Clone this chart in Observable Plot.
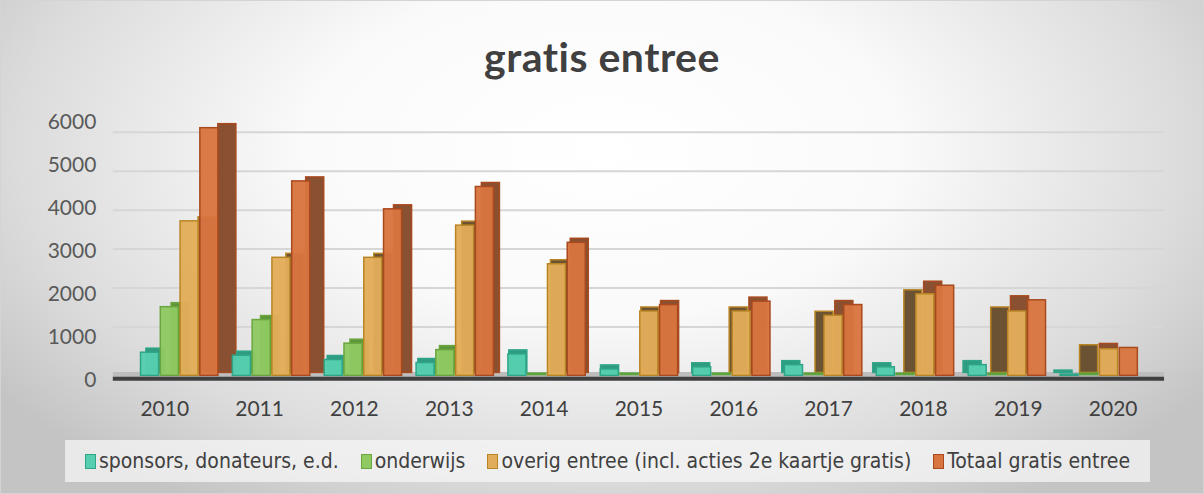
<!DOCTYPE html>
<html>
<head>
<meta charset="utf-8">
<script src="https://cdn.jsdelivr.net/npm/d3@7"></script>
<script src="https://cdn.jsdelivr.net/npm/@observablehq/plot@0.6"></script>
<style>
  html, body { margin: 0; padding: 0; }
  #card {
    position: relative; width: 1202px; height: 492px; overflow: hidden;
    border: 1px solid #d4d4d4;
    background: radial-gradient(ellipse 62% 85% at 50% 30%, #ffffff 0%, #fafafa 40%, #dcdcdc 78%, #c4c4c4 100%);
    font-family: Lato, "Open Sans", sans-serif;
  }
  #title {
    position: absolute; left: 0; right: 0; top: 31px; text-align: center;
    font-family: Lato, sans-serif; font-weight: 700; font-size: 41px; line-height: 50px;
    color: #404040; letter-spacing: 0.5px;
  }
  #chart { position: absolute; left: 0; top: 0; }
  #legend {
    position: absolute; left: 64px; top: 439px; width: 1085px; height: 42px;
    background: rgba(245,245,245,0.75);
    display: flex; align-items: center; justify-content: center; gap: 22px;
    font-family: "Liberation Sans Narrow", "DejaVu Sans Condensed", sans-serif;
    font-size: 21px; color: #404040;
  }
  .item { display: flex; align-items: center; gap: 3px; white-space: nowrap; }
  .sw { width: 11px; height: 15px; border: 1.5px solid; box-sizing: border-box; }
</style>
</head>
<body>
<div id="card">
  <div id="title">gratis entree</div>
  <div id="chart"></div>
  <div id="legend"></div>
</div>
<script>
const years = ["2010","2011","2012","2013","2014","2015","2016","2017","2018","2019","2020"];
const seriesNames = [
  "sponsors, donateurs, e.d.",
  "onderwijs",
  "overig entree (incl. acties 2e kaartje gratis)",
  "Totaal gratis entree"
];
const sponsors  = [540, 470, 370, 300, 500, 150, 200, 250, 200, 250, 30];
const onderwijs = [1600, 1300, 750, 600, 0, 0, 0, 0, 0, 0, 0];
const overig    = [3600, 2750, 2750, 3500, 2600, 1500, 1500, 1400, 1900, 1500, 620];
const totaal    = [5770, 4530, 3880, 4400, 3100, 1650, 1730, 1650, 2100, 1760, 650];
const yTicks = [0, 1000, 2000, 3000, 4000, 5000, 6000];

const frontFill = ["#55cfaf", "#8fc962", "#e2ad5a", "#d8753f"];
const strokeCol = ["#2ea587", "#6aa63e", "#b98524", "#a9491e"];
const sideFill  = ["#2f9c81", "#5f953a", "#6a5232", "#8a5032"];

// 3D perspective styling: side-face width and horizontal offset per year group
const depth = [18, 14, 10, 6, 3, 1, -3, -9, -12, -17, -20];
const shift = [15, 12, 9, 6, 3, 0.5, -2, -5, -8, -11, -14];
const depthFactor = [0.3, 0.6, 1, 1];
// back wall projection of gridlines (perspective: wall is further away)
const wallScale = 0.907, wallBase = 232;

const values = [sponsors, onderwijs, overig, totaal];
const rows = values.map((arr, s) => arr.map((v, i) => ({year: years[i], idx: i, series: s, value: v})));

// layout
const W = 1204, H = 430, mL = 112, mR = 39, mT = 117, mB = 55;
const pInner = 0.17, pOuter = 0.1;
const step = (W - mL - mR) / (years.length - pInner + 2 * pOuter);
const bw = step * (1 - pInner);
const q = bw / 4;

const marks = [];
marks.push(Plot.ruleY(yTicks.slice(1), {y: d => wallBase + wallScale * d, stroke: "#d6d6d6", strokeWidth: 2}));
marks.push(Plot.ruleY([0], {stroke: "#bdbdbd", strokeWidth: 6, dy: -1}));

function sideMark(s, i) {
  return Plot.rectY(rows[s].filter(d => d.idx === i && d.value > 0), {
    x: "year", y: "value",
    insetLeft: s * q + 0.75, insetRight: (3 - s) * q + 0.75, insetTop: -1,
    dx: shift[i] + depth[i] * depthFactor[s], dy: -3,
    fill: sideFill[s], stroke: strokeCol[s], strokeWidth: 1.5
  });
}
function frontMark(s, i) {
  return Plot.rectY(rows[s].filter(d => d.idx === i && d.value > 0), {
    x: "year", y: "value",
    insetLeft: s * q + 0.75, insetRight: (3 - s) * q + 0.75, dx: shift[i],
    fill: frontFill[s], fillOpacity: 0.96, stroke: strokeCol[s], strokeWidth: 1.5
  });
}
function flatMark(s, i) {
  return Plot.rectY(rows[s].filter(d => d.idx === i && d.value === 0), {
    x: "year", y: "value",
    insetLeft: s * q, insetRight: (3 - s) * q, insetTop: -3, dx: shift[i],
    fill: "#5fa33c"
  });
}
years.forEach((y, i) => {
  const order = depth[i] >= 0 ? [0, 1, 2, 3] : [3, 2, 1, 0];
  order.forEach(s => { marks.push(flatMark(s, i)); marks.push(sideMark(s, i)); marks.push(frontMark(s, i)); });
});

marks.push(Plot.ruleY([0], {stroke: "#404040", strokeWidth: 4, dy: 3}));
marks.push(Plot.axisY({ticks: yTicks, tickSize: 0, tickPadding: 17, tickFormat: d => String(d), dy: 4, fontSize: 21, fill: "#595959"}));
marks.push(Plot.axisX({tickSize: 0, tickPadding: 25, fontSize: 21, fill: "#404040"}));

const chart = Plot.plot({
  width: W, height: H,
  marginLeft: mL, marginRight: mR, marginTop: mT, marginBottom: mB,
  style: {background: "transparent", fontFamily: "Lato, sans-serif", overflow: "visible"},
  x: {domain: years, paddingInner: pInner, paddingOuter: pOuter, label: null},
  y: {domain: [0, 6000], label: null},
  marks
});
document.getElementById("chart").appendChild(chart);

const legend = document.getElementById("legend");
seriesNames.forEach((name, s) => {
  const it = document.createElement("div");
  it.className = "item";
  const sw = document.createElement("span");
  sw.className = "sw";
  sw.style.background = frontFill[s];
  sw.style.borderColor = strokeCol[s];
  const t = document.createElement("span");
  t.textContent = name;
  it.appendChild(sw); it.appendChild(t);
  legend.appendChild(it);
});
</script>
</body>
</html>
